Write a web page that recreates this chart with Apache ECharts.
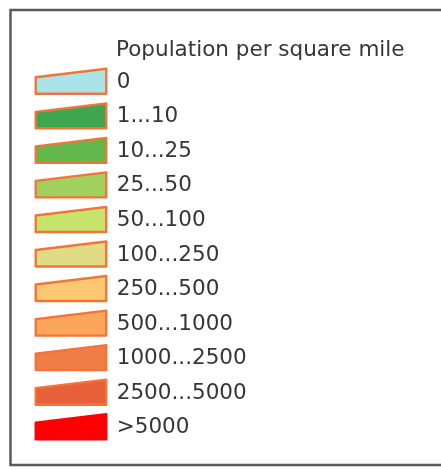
<!DOCTYPE html>
<html>
<head>
<meta charset="utf-8">
<script src="https://cdn.jsdelivr.net/npm/echarts@6/dist/echarts.min.js"></script>
<style>
html,body{margin:0;padding:0;background:#fff;}
#chart{width:441px;height:470px;}
</style>
</head>
<body>
<div id="chart"></div>
<script>
var titleText = 'Population per square mile';
var categories = ['0', '1...10', '10...25', '25...50', '50...100', '100...250', '250...500', '500...1000', '1000...2500', '2500...5000', '>5000'];
var fillColors = ['#a8e4e8', '#3ea64e', '#62b84a', '#a0d05e', '#c6e46c', '#e0dc84', '#fdc873', '#fca65a', '#f07d45', '#e8603a', '#ff0000'];
var borderColors = ['#f3743a', '#f3743a', '#f3743a', '#f3743a', '#f3743a', '#f3743a', '#f3743a', '#f3743a', '#f3743a', '#f3743a', '#ff0000'];

var FONT = "'DejaVu Sans', sans-serif";
var FONT_SIZE = 21.5;
var TEXT_COLOR = '#363636';
var chart = echarts.init(document.getElementById('chart'), null, {renderer: 'canvas'});

var data = categories.map(function (c, i) { return [0, i]; });

// swatch geometry (style, in pixels, relative to the category centre)
var SW = 70.5, SH = 25, SLOPE = 8.5, LABEL_GAP = 10.5;

function renderItem(params, api) {
  var i = api.value(1);
  var c = api.coord([api.value(0), i]);
  var x0 = c[0] - SW / 2, x1 = c[0] + SW / 2;
  var yb = c[1] + SH / 2, yt = c[1] - SH / 2;
  return {
    type: 'group',
    children: [{
      type: 'polygon',
      shape: {points: [[x0, yt + SLOPE], [x1, yt], [x1, yb], [x0, yb]]},
      style: {fill: fillColors[i], stroke: borderColors[i], lineWidth: 2.4, lineJoin: 'round'}
    }, {
      type: 'text',
      x: x1 + LABEL_GAP,
      y: c[1] + 1,
      style: {
        text: categories[i],
        fill: TEXT_COLOR,
        font: FONT_SIZE + 'px ' + FONT,
        verticalAlign: 'middle',
        align: 'left'
      }
    }]
  };
}

chart.setOption({
  animation: false,
  backgroundColor: '#ffffff',
  title: {
    text: titleText,
    left: 116,
    top: 37,
    padding: 0,
    textStyle: {fontFamily: FONT, fontSize: FONT_SIZE, fontWeight: 'normal', color: TEXT_COLOR, lineHeight: 26}
  },
  graphic: [{
    type: 'rect',
    shape: {x: 10.5, y: 10, width: 440, height: 455},
    style: {fill: 'none', stroke: '#5a5a5a', lineWidth: 2.5},
    silent: true
  }],
  grid: {left: 35.5, width: 71, top: 64, height: 380},
  xAxis: {type: 'value', min: -1, max: 1, show: false},
  yAxis: {type: 'category', data: categories, inverse: true, show: false, boundaryGap: true},
  series: [{
    type: 'custom',
    renderItem: renderItem,
    data: data,
    silent: true,
    clip: false,
    encode: {x: 0, y: 1}
  }]
});
</script>
</body>
</html>
